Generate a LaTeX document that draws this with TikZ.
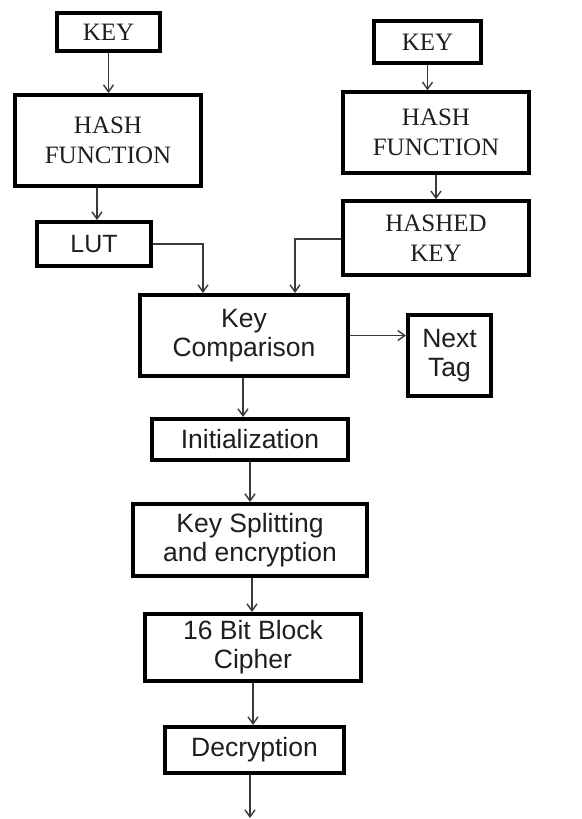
\documentclass[tikz,border=0pt]{standalone}
\usepackage{fontspec}
\setmainfont{Liberation Serif}
\setsansfont{Liberation Sans}
\usetikzlibrary{arrows.meta}
\definecolor{txt}{HTML}{1E1E1E}
\definecolor{conn}{HTML}{3A3A3A}
\tikzset{
  box/.style={draw=black, line width=4pt, rectangle, inner sep=0pt, align=center, text=txt},
  serifbox/.style={box, font=\fontsize{25}{30}\selectfont\rmfamily},
  sansbox/.style={box, font=\fontsize{26.5}{29}\selectfont\sffamily},
  arr/.style={draw=conn, line width=1.5pt, -{Straight Barb[length=7pt,width=10pt,line width=1.4pt]}},
}
\begin{document}
\begin{tikzpicture}[x=1pt,y=-1pt]
\useasboundingbox (0,0) rectangle (581,819);
% left column
\node[serifbox, minimum width=103, minimum height=38] (key1) at (108.5,32) {KEY};
\node[serifbox, minimum width=186, minimum height=91] (hash1) at (108,140.5) {HASH\\FUNCTION};
\node[sansbox, font=\fontsize{25}{29}\selectfont\sffamily, minimum width=114, minimum height=44] (lut) at (94,244) {LUT};
% right column
\node[serifbox, minimum width=107, minimum height=42] (key2) at (427.5,42) {KEY};
\node[serifbox, line width=3.5pt, minimum width=186, minimum height=81] (hash2) at (436,132.5) {HASH\\FUNCTION};
\node[serifbox, line width=3.5pt, minimum width=186, minimum height=74] (hashed) at (436,238) {HASHED\\KEY};
% main flow
\node[sansbox, minimum width=208, minimum height=81] (comp) at (244,335.5) {Key\\Comparison};
\node[sansbox, minimum width=83, minimum height=81] (next) at (449.5,355.5) {Next\\Tag};
\node[sansbox, minimum width=196, minimum height=41] (init) at (250,439.5) {Initialization};
\node[sansbox, minimum width=234, minimum height=72] (split) at (250,540) {Key Splitting\\and encryption};
\node[sansbox, minimum width=216, minimum height=67] (cipher) at (253,647.5) {16 Bit Block\\Cipher};
\node[sansbox, minimum width=179, minimum height=46] (decr) at (254.5,750) {Decryption};
\coordinate (out) at (250,818);
% connectors
\draw[arr] (key1.south) -- (key1.south |- hash1.north);
\draw[arr] ([xshift=-11pt]hash1.south) -- ([xshift=-11pt]hash1.south |- lut.north);
\draw[arr] (lut.east) -| ([xshift=-41pt]comp.north);
\draw[arr] (key2.south) -- (key2.south |- hash2.north);
\draw[arr] (hash2.south) -- (hash2.south |- hashed.north);
\draw[arr] ([yshift=-1pt]hashed.west) -| ([xshift=51pt]comp.north);
\draw[arr] (comp.east) -- (comp.east -| next.west);
\draw[arr] ([xshift=-1pt]comp.south) -- ([xshift=-1pt]comp.south |- init.north);
\draw[arr] (init.south) -- (init.south |- split.north);
\draw[arr] ([xshift=2pt]split.south) -- ([xshift=2pt]split.south |- cipher.north);
\draw[arr] (cipher.south) -- (cipher.south |- decr.north);
\draw[arr] (decr.south -| out) -- (out);
\end{tikzpicture}
\end{document}
